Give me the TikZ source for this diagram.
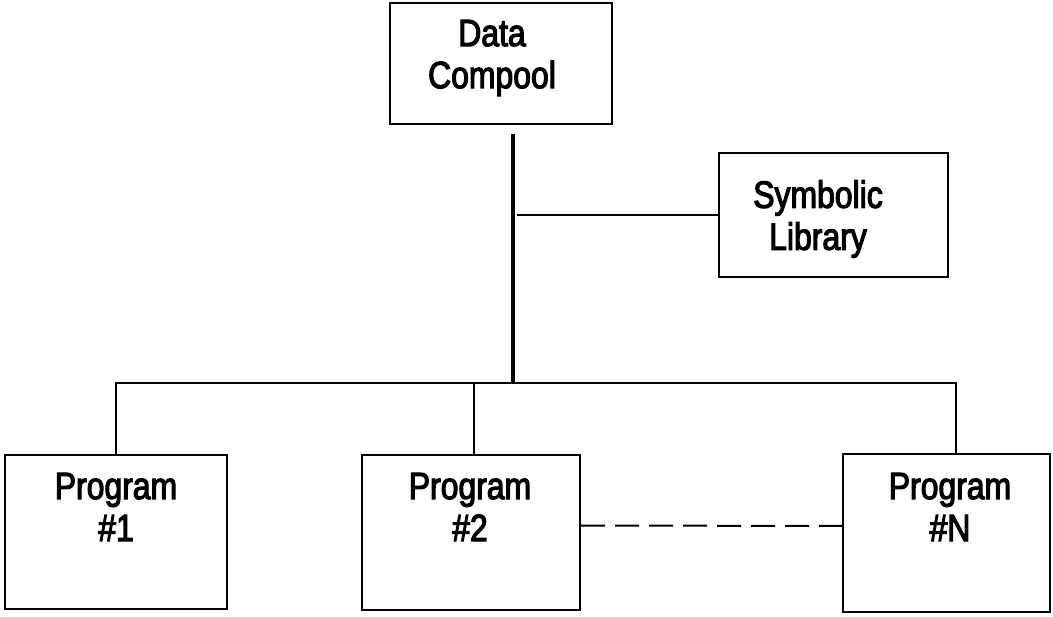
\documentclass[tikz,border=0pt]{standalone}
\usepackage{fontspec}
\setmainfont[FakeStretch=0.84,FakeBold=3]{Liberation Sans}
\usetikzlibrary{calc,positioning}

\begin{document}
\begin{tikzpicture}[x=1pt, y=-1pt,
    box/.style={draw, line width=2pt, inner sep=0pt},
    lbl/.style={align=center, inner sep=0pt, font=\fontsize{38}{42}\selectfont},
    link/.style={line width=2pt},
    trunk/.style={line width=4pt}]
    \useasboundingbox (0,0) rectangle (1053,617);

    % Top boxes
    \node[box, minimum width=222pt, minimum height=121pt] (compool) at (501,63.5) {};
    \node[lbl] (compoolText) at (492,58) {Data\\Compool};
    \node[box, minimum width=229pt, minimum height=124pt] (symlib) at (833.5,215) {};
    \node[lbl] (symlibText) at (818,219) {Symbolic\\Library};

    % Program boxes
    \node[box, minimum width=222pt, minimum height=154pt] (prog1) at (116,532) {};
    \node[lbl] (prog1Text) at (116,507) {Program\\\#1};
    \node[box, minimum width=218pt, minimum height=155pt] (prog2) at (471,532.5) {};
    \node[lbl] (prog2Text) at (470,507) {Program\\\#2};
    \node[box, minimum width=207pt, minimum height=158pt] (progN) at (946.5,533) {};
    \node[lbl] (progNText) at (950,507) {Program\\\#N};

    % Trunk and bus
    \coordinate (hub) at (513,383);
    \draw[trunk] ([yshift=-9pt]compool.south -| hub) -- (hub);
    \draw[link] ([xshift=4pt]hub |- symlib.west) -- (symlib.west);
    \draw[link] (prog1.north) |- (hub) -| ([xshift=9pt]progN.north);
    \draw[link] ([xshift=3pt]prog2.north) -- ([xshift=3pt]prog2.north |- hub);

    % Link between programs
    \draw[link, dash pattern=on 24pt off 10pt] ([yshift=7pt]prog2.east) -- ([yshift=7pt]progN.west);
\end{tikzpicture}
\end{document}
